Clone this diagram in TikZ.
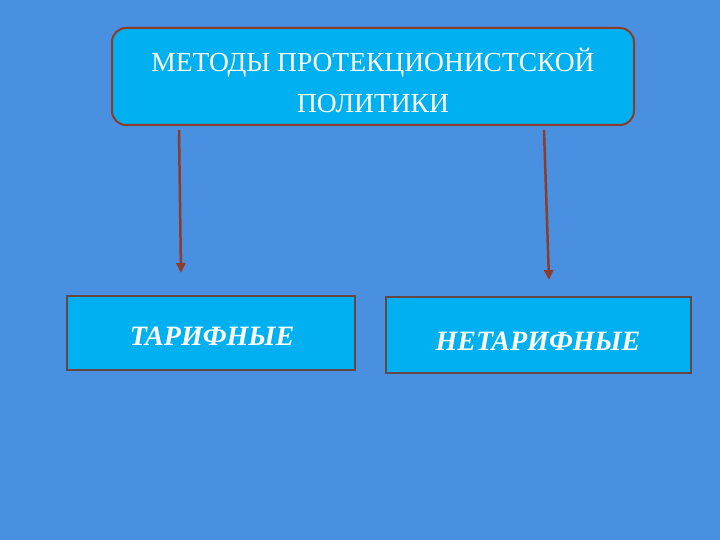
\documentclass[tikz,border=0pt]{standalone}
\usepackage{fontspec}
\setmainfont{Liberation Serif}
\usetikzlibrary{arrows.meta}
\definecolor{bg}{RGB}{74,144,224}
\definecolor{cy}{RGB}{0,176,240}
\definecolor{br}{RGB}{140,60,40}
\definecolor{bx}{RGB}{100,70,70}
\begin{document}
\begin{tikzpicture}[x=1pt,y=-1pt,
 topbox/.style={draw=br,line width=2pt,fill=cy,rounded corners=14pt,minimum width=522pt,minimum height=97pt,inner sep=0pt},
 lowbox/.style={draw=bx,line width=2pt,fill=cy,inner sep=0pt},
 lowtext/.style={text=white,font=\fontsize{28}{32}\selectfont\bfseries\itshape},
 arr/.style={draw=br,line width=2.5pt,-{Triangle[length=10pt,width=9pt]}}]
\fill[bg] (0,0) rectangle (720,540);
\node[topbox] (top) at (373,76.5) {};
\node[text=white,font=\fontsize{27.5}{41}\selectfont,align=center] (tt) at (373,80) {МЕТОДЫ ПРОТЕКЦИОНИСТСКОЙ\\ПОЛИТИКИ};
\node[lowbox,minimum width=288pt,minimum height=74pt] (l) at (211,333) {};
\node[lowtext] (lt) at (212,336) {ТАРИФНЫЕ};
\node[lowbox,minimum width=305pt,minimum height=76pt] (r) at (538.5,335) {};
\node[lowtext] (rt) at (538,341) {НЕТАРИФНЫЕ};
\coordinate (a1) at (179,130); \coordinate (b1) at (181,273);
\coordinate (a2) at (544,130); \coordinate (b2) at (549,280);
\draw[arr] (a1) -- (b1);
\draw[arr] (a2) -- (b2);
\end{tikzpicture}
\end{document}
